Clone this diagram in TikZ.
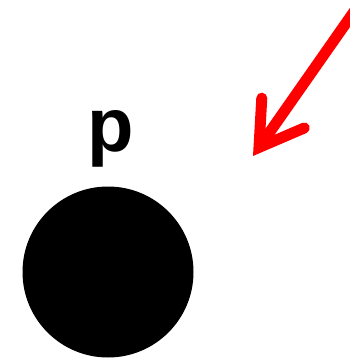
\documentclass[tikz,border=0pt]{standalone}
\usepackage{fontspec}
\setmainfont{Liberation Sans}
\usetikzlibrary{arrows.meta,positioning}

\begin{document}
\begin{tikzpicture}[
  x=1pt,y=-1pt,
  dot/.style  ={circle,fill=black,draw=none,minimum size=171pt,inner sep=0pt},
  plabel/.style={font=\bfseries\fontsize{76}{80}\selectfont,inner sep=0pt,anchor=base},
  pointer/.style={-{Straight Barb[length=42pt,width=52pt,line cap=round]},
                line width=11pt,red,line cap=round}]

  \useasboundingbox (0,0) rectangle (349,361);

  % the point and its name
  \node[dot]    (pt)  at (108,272) {};
  \node[plabel] (lab) at (111,151) {p};

  % red arrow coming in from the top right
  \coordinate (tail) at (358,6);
  \coordinate (tip)  at (253,156);
  \draw[pointer] (tail) -- (tip);

\end{tikzpicture}
\end{document}
